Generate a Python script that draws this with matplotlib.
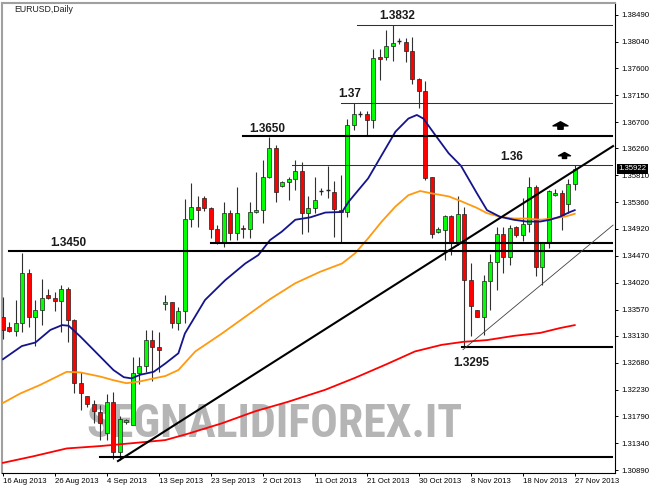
import numpy as np
import matplotlib
matplotlib.use('Agg')
from matplotlib import pyplot as plt
from matplotlib import font_manager
from matplotlib.path import Path

# daily bars, 16 Aug 2013 .. 27 Nov 2013 (MT4 with Sunday bars)
opens = [1.3344, 1.3328, 1.3322, 1.3334, 1.3418, 1.3344, 1.3357, 1.3381, 1.3376, 1.3371,
         1.3391, 1.3340, 1.3235, 1.3212, 1.3199, 1.3186, 1.3150, 1.3202, 1.3119, 1.3169,
         1.3165, 1.3251, 1.3263, 1.3306, 1.3295, 1.3367, 1.3369, 1.3334, 1.3355, 1.3508,
         1.3528, 1.3544, 1.3526, 1.3492, 1.3468, 1.3519, 1.3485, 1.3494, 1.3491, 1.3520,
         1.3523, 1.3579, 1.3626, 1.3563, 1.3570, 1.3575, 1.3589, 1.3519, 1.3526, 1.3555,
         1.3556, 1.3554, 1.3524, 1.3520, 1.3666, 1.3683, 1.3683, 1.3674, 1.3778, 1.3778,
         1.3798, 1.3806, 1.3804, 1.3788, 1.3742, 1.3722, 1.3578, 1.3487, 1.3490, 1.3513,
         1.3468, 1.3516, 1.3406, 1.3356, 1.3345, 1.3405, 1.3436, 1.3483, 1.3444, 1.3495,
         1.3481, 1.3500, 1.3562, 1.3428, 1.3468, 1.3548, 1.3551, 1.3533, 1.3566]
highs = [1.3378, 1.3337, 1.3373, 1.3452, 1.3424, 1.3373, 1.3408, 1.3391, 1.3387, 1.3398,
         1.3395, 1.3342, 1.3253, 1.3213, 1.3206, 1.3198, 1.3216, 1.3220, 1.3179, 1.3174,
         1.3278, 1.3278, 1.3323, 1.3323, 1.3320, 1.3381, 1.3370, 1.3362, 1.3541, 1.3568,
         1.3547, 1.3546, 1.3528, 1.3499, 1.3537, 1.3523, 1.3562, 1.3498, 1.3537, 1.3587,
         1.3607, 1.3646, 1.3632, 1.3571, 1.3579, 1.3607, 1.3604, 1.3546, 1.3579, 1.3560,
         1.3596, 1.3571, 1.3582, 1.3676, 1.3702, 1.3688, 1.3688, 1.3793, 1.3793, 1.3824,
         1.3832, 1.3810, 1.3810, 1.3813, 1.3743, 1.3738, 1.3579, 1.3495, 1.3515, 1.3515,
         1.3546, 1.3528, 1.3435, 1.3357, 1.3415, 1.3450, 1.3495, 1.3495, 1.3498, 1.3497,
         1.3543, 1.3579, 1.3565, 1.3470, 1.3557, 1.3558, 1.3557, 1.3575, 1.3598]
lows = [1.3308, 1.3320, 1.3312, 1.3320, 1.3328, 1.3296, 1.3331, 1.3375, 1.3355, 1.3320,
        1.3303, 1.3217, 1.3189, 1.3195, 1.3168, 1.3139, 1.3139, 1.3107, 1.3106, 1.3166,
        1.3164, 1.3233, 1.3253, 1.3237, 1.3253, 1.3356, 1.3327, 1.3323, 1.3335, 1.3495,
        1.3495, 1.3522, 1.3476, 1.3466, 1.3461, 1.3473, 1.3473, 1.3476, 1.3476, 1.3518,
        1.3502, 1.3576, 1.3537, 1.3562, 1.3540, 1.3556, 1.3484, 1.3487, 1.3518, 1.3548,
        1.3544, 1.3479, 1.3470, 1.3512, 1.3657, 1.3679, 1.3649, 1.3660, 1.3740, 1.3774,
        1.3772, 1.3800, 1.3771, 1.3733, 1.3693, 1.3573, 1.3477, 1.3485, 1.3440, 1.3448,
        1.3465, 1.3295, 1.3313, 1.3344, 1.3315, 1.3356, 1.3390, 1.3418, 1.3431, 1.3479,
        1.3472, 1.3487, 1.3413, 1.3398, 1.3459, 1.3546, 1.3490, 1.3518, 1.3556]
closes = [1.3323, 1.3321, 1.3334, 1.3418, 1.3344, 1.3357, 1.3377, 1.3376, 1.3371, 1.3391,
          1.3340, 1.3235, 1.3218, 1.3199, 1.3187, 1.3168, 1.3202, 1.3119, 1.3174, 1.3172,
          1.3251, 1.3263, 1.3306, 1.3295, 1.3290, 1.3370, 1.3334, 1.3355, 1.3508, 1.3528,
          1.3523, 1.3526, 1.3492, 1.3468, 1.3519, 1.3485, 1.3519, 1.3491, 1.3520, 1.3523,
          1.3579, 1.3626, 1.3554, 1.3570, 1.3575, 1.3589, 1.3519, 1.3526, 1.3540, 1.3554,
          1.3555, 1.3525, 1.3520, 1.3666, 1.3683, 1.3682, 1.3674, 1.3777, 1.3775, 1.3798,
          1.3802, 1.3805, 1.3788, 1.3742, 1.3722, 1.3576, 1.3483, 1.3491, 1.3513, 1.3468,
          1.3516, 1.3406, 1.3363, 1.3345, 1.3405, 1.3436, 1.3483, 1.3444, 1.3494, 1.3481,
          1.3500, 1.3562, 1.3428, 1.3468, 1.3555, 1.3551, 1.3515, 1.3566, 1.3592]

# moving averages (bar position, price)
blue_pos = [0.0, 2.9, 5.0, 7.3, 9.1, 10.1, 11.9, 15.0, 17.0, 18.6, 19.8, 21.1, 23.2, 25.0,
            27.0, 28.0, 31.1, 34.2, 37.3, 39.3, 41.1, 42.9, 45.0, 47.3, 49.6, 52.2, 53.2,
            56.2, 58.3, 60.4, 62.4, 63.7, 64.7, 66.5, 68.6, 70.5, 72.9, 74.5, 76.5, 78.6,
            80.6, 82.7, 84.2, 85.7, 87.3, 88.0]
blue_val = [1.3274, 1.3296, 1.3302, 1.3323, 1.3331, 1.3330, 1.3312, 1.3278, 1.3256, 1.3244,
            1.3242, 1.3248, 1.3253, 1.3267, 1.3284, 1.3317, 1.3373, 1.3406, 1.3434, 1.3448,
            1.3473, 1.3487, 1.3507, 1.3511, 1.3519, 1.3520, 1.3537, 1.3576, 1.3615, 1.3654,
            1.3676, 1.3682, 1.3676, 1.3649, 1.3618, 1.3597, 1.3552, 1.3523, 1.3512, 1.3507,
            1.3504, 1.3504, 1.3507, 1.3512, 1.3520, 1.3523]
orange_pos = [0.0, 2.7, 5.7, 9.8, 11.9, 15.0, 17.0, 19.0, 21.1, 23.2, 25.0, 27.0, 29.6,
              33.7, 37.3, 40.9, 45.0, 48.8, 52.2, 54.2, 56.2, 58.3, 60.4, 62.4, 64.2, 66.0,
              68.6, 70.5, 72.9, 74.5, 76.5, 78.6, 80.6, 82.7, 84.7, 86.8, 88.0]
orange_val = [1.3201, 1.3217, 1.3231, 1.3253, 1.3252, 1.3245, 1.3239, 1.3234, 1.3237, 1.3242,
              1.3246, 1.3256, 1.3287, 1.3317, 1.3345, 1.3373, 1.3401, 1.3420, 1.3434, 1.3451,
              1.3476, 1.3504, 1.3529, 1.3548, 1.3555, 1.3551, 1.3546, 1.3538, 1.3527, 1.3518,
              1.3512, 1.3509, 1.3509, 1.3507, 1.3509, 1.3513, 1.3517]
red_pos = [0.0, 4.7, 9.8, 15.0, 20.1, 25.0, 28.6, 33.7, 38.8, 43.9, 49.6, 54.2, 59.1,
           63.4, 67.5, 70.8, 74.5, 78.6, 82.7, 85.7, 88.0]
red_val = [1.3101, 1.3112, 1.3125, 1.3129, 1.3134, 1.3139, 1.3150, 1.3167, 1.3187, 1.3203,
           1.3223, 1.3243, 1.3266, 1.3287, 1.3298, 1.3303, 1.3306, 1.3313, 1.3318, 1.3326,
           1.3331]

# drawn levels: price, start bar, thick?
level_val = [1.3833, 1.3702, 1.3647, 1.3598, 1.3468, 1.3454, 1.3295, 1.3110]
level_start = [54.5, 52.0, 37.0, 44.5, 32.0, 1.0, 70.7, 15.0]
level_thick = [False, False, True, False, True, True, True, True]
level_end = 93.7

level_text = ['1.3832', '1.37', '1.3650', '1.36', '1.3450', '1.3295']
level_text_pos = [60.6, 53.4, 40.6, 78.3, 10.1, 72.0]
level_text_val = [1.3847, 1.3717, 1.3659, 1.3611, 1.3468, 1.3268]

trend_thick = ([17.7, 93.9], [1.3104, 1.3630])
trend_thin = ([70.8, 93.9], [1.3290, 1.3498])

arrow_pos = [85.8, 86.4]
arrow_val = [1.3665, 1.3615]
arrow_size = [10.8, 8.6]

date_pos = [0, 8, 16, 24, 32, 40, 48, 56, 64, 72, 80, 88]
date_labels = ['16 Aug 2013', '26 Aug 2013', '4 Sep 2013', '13 Sep 2013', '23 Sep 2013',
               '2 Oct 2013', '11 Oct 2013', '21 Oct 2013', '30 Oct 2013', '8 Nov 2013',
               '18 Nov 2013', '27 Nov 2013']
price_ticks = [1.30890, 1.31340, 1.31790, 1.32230, 1.32680, 1.33130, 1.33570, 1.34020,
               1.34470, 1.34920, 1.35360, 1.35810, 1.36260, 1.36700, 1.37150, 1.37600,
               1.38040, 1.38490]
last_price = 1.35922


def pick_font(names):
    installed = {f.name for f in font_manager.fontManager.ttflist}
    for n in names:
        if n in installed:
            return n
    return 'DejaVu Sans'


label_font = pick_font(['Liberation Sans', 'Arial'])
mark_font = pick_font(['Liberation Sans Narrow', 'Roboto Condensed', 'Liberation Sans'])

fig = plt.figure(figsize=(6.5, 4.88), dpi=100)
ax = fig.add_axes([2 / 650, 15 / 488, 613 / 650, 470 / 488])

# candles
x = np.arange(len(opens))
o = np.array(opens)
h = np.array(highs)
l = np.array(lows)
c = np.array(closes)
doji = np.abs(c - o) < 0.00012
body = ~doji

ax.vlines(x, l, h, color='#303030', lw=0.8, zorder=3)
cols = np.where(c >= o, '#00ff00', '#ff0000')
ax.bar(x[body], np.abs(c - o)[body], bottom=np.minimum(o, c)[body], width=0.62,
       color=cols[body], edgecolor='#202020', linewidth=0.5, zorder=4)
ax.hlines(o[doji], x[doji] - 0.32, x[doji] + 0.32, color='#202020', lw=1.0, zorder=4)

# moving averages
ax.plot(red_pos, red_val, color='#ff0000', lw=1.3, zorder=5)
ax.plot(orange_pos, orange_val, color='#ff9910', lw=1.3, zorder=5)
ax.plot(blue_pos, blue_val, color='#14148c', lw=1.3, zorder=5)

# horizontal levels
for v, s, t in zip(level_val, level_start, level_thick):
    if t:
        ax.plot([s, level_end], [v, v], color='black', lw=1.5, zorder=6)
    else:
        ax.plot([s, level_end], [v, v], color='#303030', lw=0.75, zorder=6)

for txt, p, v in zip(level_text, level_text_pos, level_text_val):
    ax.text(p, v, txt, ha='center', va='center', fontsize=8.5, fontweight='bold',
            family=label_font, color='#1a1a1a', zorder=7)

# trend lines
ax.plot(trend_thick[0], trend_thick[1], color='black', lw=1.5, zorder=6)
ax.plot(trend_thin[0], trend_thin[1], color='#404040', lw=0.6, zorder=6)

# arrows
arrow_path = Path([(0, 0.5), (1, -0.05), (0.35, -0.05), (0.35, -0.5), (-0.35, -0.5),
                   (-0.35, -0.05), (-1, -0.05), (0, 0.5)], closed=True)
for p, v, s in zip(arrow_pos, arrow_val, arrow_size):
    ax.plot([p], [v], marker=arrow_path, markersize=s, color='black', linestyle='none',
            zorder=7)

# watermark
wm = ax.text(0.4445, 0.105, 'SEGNALIDIFOREX.IT', transform=ax.transAxes, ha='center',
             va='center', fontsize=30, fontweight='bold', family=mark_font,
             color='#b5b5b5', zorder=1)
fig.canvas.draw()
w = wm.get_window_extent().width
wm.set_fontsize(30 * 375 / w)

ax.text(12 / 613, 1 - 6 / 470, 'EURUSD,Daily', transform=ax.transAxes, ha='left',
        va='center', fontsize=6.3, family=label_font, color='#202020')

# axes
ax.set_xlim(-0.15, 94.2)
ax.set_ylim(1.3084, 1.3869)
ax.yaxis.tick_right()
ax.set_yticks(price_ticks)
ax.set_yticklabels(['%.5f' % t for t in price_ticks])
ax.set_xticks(date_pos)
ax.set_xticklabels(date_labels, ha='left')
ax.tick_params(axis='y', length=2.5, width=0.7, pad=2, labelsize=5.6, colors='black')
ax.tick_params(axis='x', length=2, width=0.7, pad=1.5, labelsize=5.6, colors='black')
for lab in ax.get_xticklabels() + ax.get_yticklabels():
    lab.set_fontfamily(label_font)

for side in ['left', 'top']:
    ax.spines[side].set_color('#a0a0a0')
    ax.spines[side].set_linewidth(1.5)
for side in ['right', 'bottom']:
    ax.spines[side].set_color('black')
    ax.spines[side].set_linewidth(0.8)

ax.text(1.005, last_price, '%.5f' % last_price, transform=ax.get_yaxis_transform(),
        ha='left', va='center', fontsize=5.6, family=label_font, color='white',
        bbox=dict(boxstyle='square,pad=0.2', fc='black', ec='none'), zorder=10,
        clip_on=False)

fig.savefig('out.png', dpi=100)
